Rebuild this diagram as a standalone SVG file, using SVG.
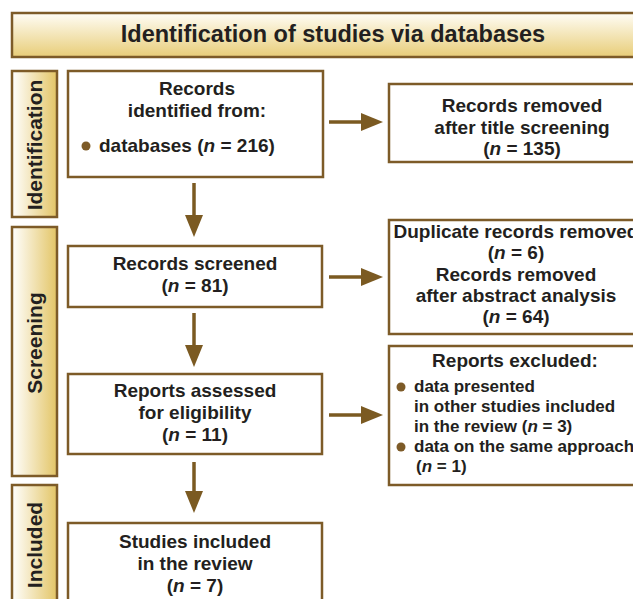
<svg xmlns="http://www.w3.org/2000/svg" width="633" height="599" viewBox="0 0 633 599">
  <defs>
    <linearGradient id="gTitle" x1="0" y1="0" x2="0" y2="1">
      <stop offset="0" stop-color="#fffdf6"/>
      <stop offset="1" stop-color="#e8cd78"/>
    </linearGradient>
    <linearGradient id="gSide" x1="0" y1="0" x2="1" y2="0">
      <stop offset="0" stop-color="#ffffff"/>
      <stop offset="1" stop-color="#e3c566"/>
    </linearGradient>
    <marker id="ah" markerUnits="userSpaceOnUse" markerWidth="22" markerHeight="18" refX="17" refY="9" orient="auto">
      <path d="M0,0 L22,9 L0,18 Z" fill="#7b5a22"/>
    </marker>
    <style>
      .box { fill: #ffffff; stroke: #7d5b28; stroke-width: 2.5; }
      .title { fill: url(#gTitle); stroke: #7d5b28; stroke-width: 2.5; }
      .side { fill: url(#gSide); stroke: #7d5b28; stroke-width: 2.5; }
      text { font-family: "Liberation Sans", Arial, Helvetica, sans-serif; font-weight: bold; fill: #231f20; }
      .t { font-size: 19px; text-anchor: middle; }
      .l { font-size: 19px; }
      .s { font-size: 17px; }
      .side-t { font-size: 21px; text-anchor: middle; }
      .i { font-style: italic; }
      .dot { fill: #7d5b28; }
      .conn { stroke: #7b5a22; stroke-width: 3.5; fill: none; marker-end: url(#ah); }
    </style>
  </defs>

  <g id="title-bar">
    <rect class="title" x="12" y="13" width="650" height="44"/>
    <text x="333" y="42" style="font-size:23.5px;text-anchor:middle">Identification of studies via databases</text>
  </g>

  <g id="phase-identification">
    <rect class="side" x="12" y="71" width="45" height="146"/>
    <text class="side-t" transform="translate(42,145) rotate(-90)">Identification</text>
  </g>
  <g id="phase-screening">
    <rect class="side" x="12" y="227" width="45" height="249"/>
    <text class="side-t" transform="translate(42,343) rotate(-90)">Screening</text>
  </g>
  <g id="phase-included">
    <rect class="side" x="12" y="485" width="45" height="130"/>
    <text class="side-t" transform="translate(42,545) rotate(-90)">Included</text>
  </g>

  <g id="records-identified">
    <rect class="box" x="68" y="71" width="255" height="106"/>
    <text class="t" x="197" y="95">Records</text>
    <text class="t" x="197" y="117">identified from:</text>
    <circle class="dot" cx="86" cy="146" r="4.5"/>
    <text class="l" x="99" y="152">databases (<tspan class="i">n</tspan> = 216)</text>
  </g>

  <g id="records-removed-title">
    <rect class="box" x="389" y="84" width="270" height="78"/>
    <text class="t" x="522" y="112">Records removed</text>
    <text class="t" x="522" y="134">after title screening</text>
    <text class="t" x="522" y="155">(<tspan class="i">n</tspan> = 135)</text>
  </g>

  <g id="records-screened">
    <rect class="box" x="68" y="246" width="254" height="61"/>
    <text class="t" x="195" y="270">Records screened</text>
    <text class="t" x="195" y="292">(<tspan class="i">n</tspan> = 81)</text>
  </g>

  <g id="records-removed-abstract">
    <rect class="box" x="389" y="220" width="270" height="114"/>
    <text class="t" x="516" y="238">Duplicate records removed</text>
    <text class="t" x="516" y="259">(<tspan class="i">n</tspan> = 6)</text>
    <text class="t" x="516" y="281">Records removed</text>
    <text class="t" x="516" y="302">after abstract analysis</text>
    <text class="t" x="516" y="323">(<tspan class="i">n</tspan> = 64)</text>
  </g>

  <g id="reports-assessed">
    <rect class="box" x="68" y="374" width="254" height="80"/>
    <text class="t" x="195" y="397">Reports assessed</text>
    <text class="t" x="195" y="419">for eligibility</text>
    <text class="t" x="195" y="441">(<tspan class="i">n</tspan> = 11)</text>
  </g>

  <g id="reports-excluded">
    <rect class="box" x="389" y="346" width="270" height="139"/>
    <text class="t" x="515" y="367">Reports excluded:</text>
    <circle class="dot" cx="401" cy="387" r="4.5"/>
    <text class="s" x="414" y="392">data presented</text>
    <text class="s" x="414" y="412">in other studies included</text>
    <text class="s" x="414" y="432">in the review (<tspan class="i">n</tspan> = 3)</text>
    <circle class="dot" cx="401" cy="447" r="4.5"/>
    <text class="s" x="414" y="452">data on the same approach</text>
    <text class="s" x="416" y="472">(<tspan class="i">n</tspan> = 1)</text>
  </g>

  <g id="studies-included">
    <rect class="box" x="68" y="523" width="254" height="90"/>
    <text class="t" x="195" y="548">Studies included</text>
    <text class="t" x="195" y="570">in the review</text>
    <text class="t" x="195" y="592">(<tspan class="i">n</tspan> = 7)</text>
  </g>

  <g id="connectors">
    <line class="conn" x1="194" y1="183" x2="194" y2="232"/>
    <line class="conn" x1="194" y1="313" x2="194" y2="362"/>
    <line class="conn" x1="194" y1="462" x2="194" y2="508"/>
    <line class="conn" x1="329" y1="122" x2="378" y2="122"/>
    <line class="conn" x1="329" y1="277" x2="378" y2="277"/>
    <line class="conn" x1="329" y1="415" x2="378" y2="415"/>
  </g>
</svg>
